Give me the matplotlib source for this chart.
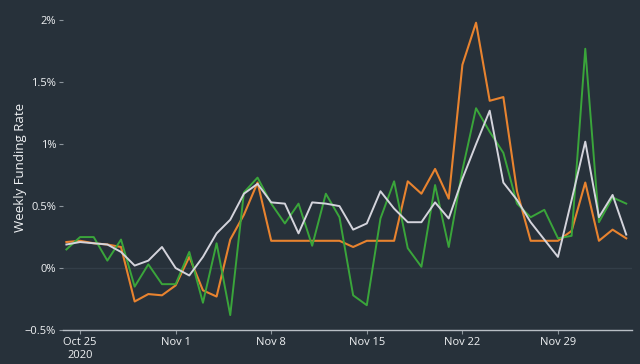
import numpy as np
import pandas as pd
import matplotlib.pyplot as plt
import matplotlib.dates as mdates
from matplotlib.ticker import FuncFormatter

plt.rcParams['font.family'] = ['Open Sans', 'DejaVu Sans']

dates = pd.date_range('2020-10-24', '2020-12-04', freq='D')

orange = [0.21, 0.22, 0.20, 0.19, 0.17, -0.27, -0.21, -0.22, -0.14, 0.09, -0.18, -0.23,
          0.23, 0.43, 0.69, 0.22, 0.22, 0.22, 0.22, 0.22, 0.22, 0.17, 0.22, 0.22, 0.22,
          0.70, 0.60, 0.80, 0.56, 1.64, 1.98, 1.35, 1.38, 0.62, 0.22, 0.22, 0.22, 0.30,
          0.69, 0.22, 0.31, 0.24]
green = [0.15, 0.25, 0.25, 0.06, 0.23, -0.15, 0.03, -0.13, -0.13, 0.13, -0.28, 0.20,
         -0.38, 0.61, 0.73, 0.52, 0.36, 0.52, 0.18, 0.60, 0.41, -0.22, -0.30, 0.40, 0.70,
         0.16, 0.01, 0.67, 0.17, 0.79, 1.29, 1.10, 0.93, 0.52, 0.41, 0.47, 0.24, 0.26,
         1.77, 0.37, 0.57, 0.52]
white = [0.19, 0.21, 0.20, 0.19, 0.13, 0.02, 0.06, 0.17, 0.00, -0.06, 0.09, 0.28,
         0.39, 0.60, 0.68, 0.53, 0.52, 0.28, 0.53, 0.52, 0.50, 0.31, 0.36, 0.62, 0.48,
         0.37, 0.37, 0.53, 0.40, 0.72, 1.00, 1.27, 0.69, 0.55, 0.37, 0.23, 0.09, 0.55,
         1.02, 0.41, 0.59, 0.27]

bg = '#27313a'
fig = plt.figure(figsize=(6.4, 3.64), dpi=100, facecolor=bg)
ax = fig.add_axes([0.0984, 0.0934, 0.889, 0.868], facecolor=bg)

ax.plot(dates, orange, color='#e8832f', lw=1.5)
ax.plot(dates, green, color='#3aa53a', lw=1.4)
ax.plot(dates, white, color='#d4d4dc', lw=1.4)

ax.axhline(0, color='#333e48', lw=1, zorder=0)

ax.set_ylim(-0.5, 2.05)
ax.set_yticks([-0.5, 0, 0.5, 1, 1.5, 2])
ax.yaxis.set_major_formatter(FuncFormatter(lambda v, p: ('\u22120.5%' if v < 0 else '%g%%' % v)))
ax.set_xlim(pd.Timestamp('2020-10-23 18:00'), pd.Timestamp('2020-12-04 10:00'))
ticks = pd.to_datetime(['2020-10-25', '2020-11-01', '2020-11-08', '2020-11-15', '2020-11-22', '2020-11-29'])
ax.set_xticks(ticks)
ax.set_xticklabels(['Oct 25\n2020', 'Nov 1', 'Nov 8', 'Nov 15', 'Nov 22', 'Nov 29'])

for s in ['top', 'right', 'left']:
    ax.spines[s].set_visible(False)
ax.spines['bottom'].set_color('#b8bec4')
ax.spines['bottom'].set_linewidth(1)

ax.tick_params(axis='y', colors='#8c959c', labelcolor='#f0f2f4', labelsize=8,
               length=3, width=0.8, pad=2)
ax.tick_params(axis='x', colors='#8c959c', labelcolor='#f0f2f4', labelsize=8,
               length=3, width=0.8, pad=2)
ax.set_ylabel('Weekly Funding Rate', color='#f0f2f4', fontsize=9.5)
ax.yaxis.set_label_coords(-0.064, 0.515)

fig.savefig('out.png', dpi=100, facecolor=bg)
